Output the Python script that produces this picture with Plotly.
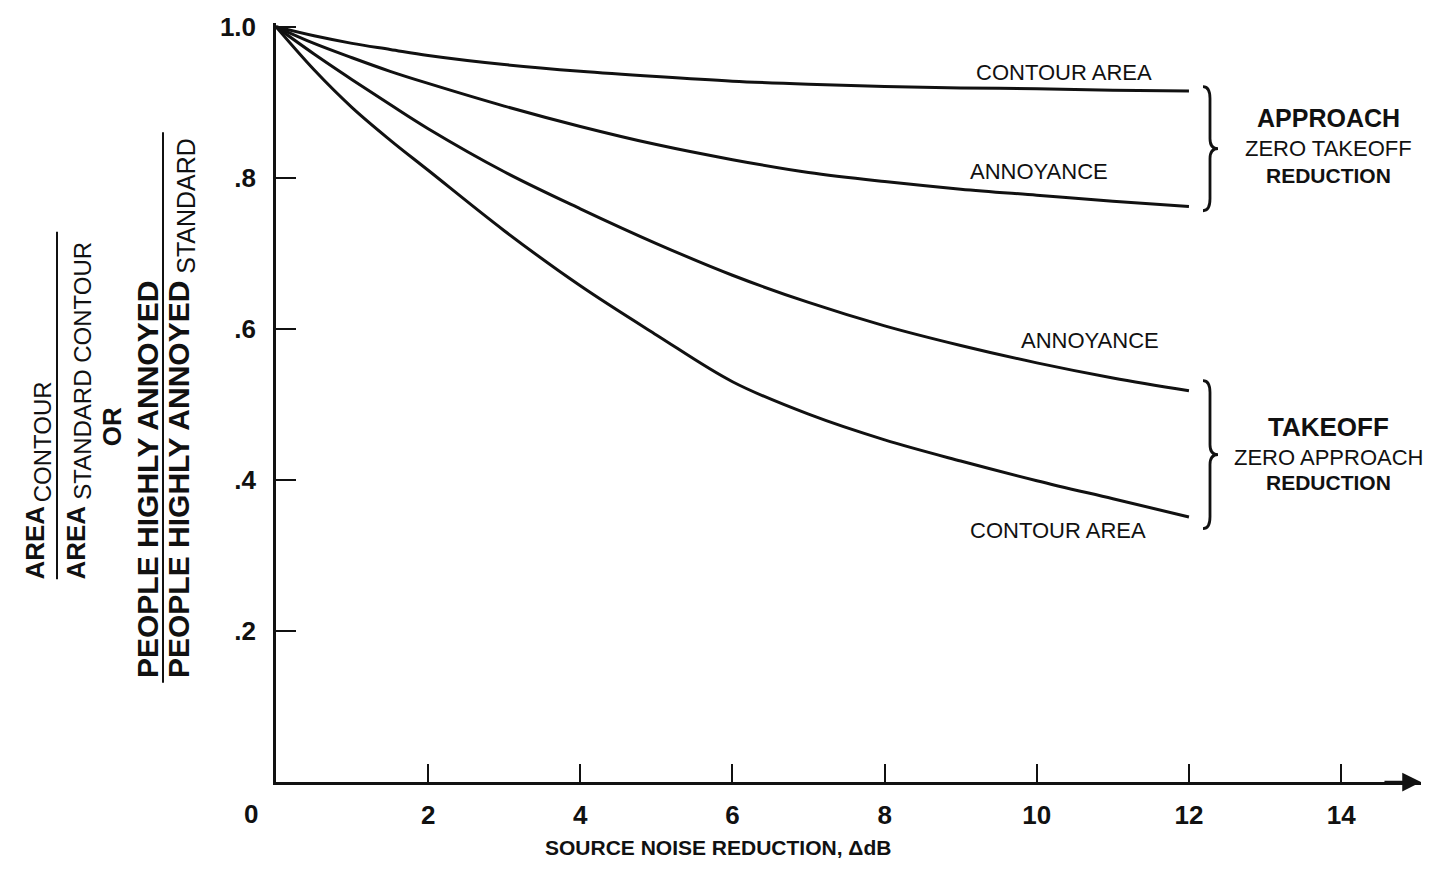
import plotly.graph_objects as go

# ---------------- data ----------------
reduction_db = [0, 0.5, 1, 1.5, 2, 3, 4, 5, 6, 7, 8, 9, 10, 11, 12]
contour_area_approach = [1.0, 0.988, 0.978, 0.970, 0.962, 0.950, 0.941, 0.934, 0.928, 0.924, 0.921, 0.919, 0.918, 0.916, 0.915]
annoyance_approach = [1.0, 0.978, 0.959, 0.941, 0.925, 0.895, 0.868, 0.844, 0.824, 0.807, 0.795, 0.785, 0.777, 0.769, 0.762]
annoyance_takeoff = [1.0, 0.964, 0.930, 0.897, 0.865, 0.808, 0.759, 0.713, 0.671, 0.635, 0.604, 0.578, 0.555, 0.535, 0.518]
contour_area_takeoff = [1.0, 0.943, 0.893, 0.850, 0.810, 0.730, 0.657, 0.592, 0.530, 0.487, 0.453, 0.425, 0.399, 0.375, 0.351]

x_tick_vals = [2, 4, 6, 8, 10, 12, 14]
x_tick_text = ["2", "4", "6", "8", "10", "12", "14"]
y_tick_vals = [0.2, 0.4, 0.6, 0.8, 1.0]
y_tick_text = [".2", ".4", ".6", ".8", "1.0"]

# ---------------- layout geometry ----------------
W, H = 1435, 871
L, R, T, B = 276, 14, 18, 89
PW, PH = W - L - R, H - T - B
FONT = "Liberation Sans, Arial, Helvetica, sans-serif"
INK = "#111111"


def fx(px):
    return (px - L) / PW


def fy(py):
    return (H - B - py) / PH


fig = go.Figure()
for series in [contour_area_approach, annoyance_approach, annoyance_takeoff, contour_area_takeoff]:
    fig.add_trace(go.Scatter(
        x=reduction_db, y=series, mode="lines",
        line=dict(color=INK, width=3, shape="spline", smoothing=1.0),
        hoverinfo="skip", showlegend=False,
    ))

annotations = []


def txt(text, px, py, size, bold=False, angle=0):
    annotations.append(dict(
        text=text, x=fx(px), y=fy(py), xref="paper", yref="paper",
        xanchor="center", yanchor="middle", showarrow=False, textangle=angle,
        font=dict(family=FONT, size=size, color=INK, weight="bold" if bold else "normal"),
    ))


# curve labels (data coordinates)
for text, xv, yv in [("CONTOUR AREA", 10.36, 0.940), ("ANNOYANCE", 10.03, 0.808),
                     ("ANNOYANCE", 10.70, 0.584), ("CONTOUR AREA", 10.28, 0.333)]:
    annotations.append(dict(text=text, x=xv, y=yv, xref="x", yref="y", showarrow=False,
                            xanchor="center", yanchor="middle",
                            font=dict(family=FONT, size=22, color=INK)))

# group labels
txt("APPROACH", 1328, 114, 25, bold=True)
txt("ZERO TAKEOFF", 1328, 144, 22)
txt("REDUCTION", 1328, 172, 21, bold=True)
txt("TAKEOFF", 1328, 425, 26, bold=True)
txt("ZERO APPROACH", 1328, 455, 22)
txt("REDUCTION", 1328, 481, 21, bold=True)

# axis annotations
txt("0", 251, 814, 26, bold=True)
txt("SOURCE NOISE REDUCTION, \u0394dB", 718, 848, 21, bold=True)

# y-axis title (rotated fraction)
txt("AREA", 35, 541, 26, bold=True, angle=-90)
txt("CONTOUR", 42, 440, 24, angle=-90)
txt("AREA", 76, 541, 26, bold=True, angle=-90)
txt("STANDARD CONTOUR", 83, 368, 24, angle=-90)
txt("OR", 112, 425, 26, bold=True, angle=-90)
txt("PEOPLE HIGHLY ANNOYED", 148, 478, 30, bold=True, angle=-90)
txt("PEOPLE HIGHLY ANNOYED", 179, 478, 30, bold=True, angle=-90)
txt("STANDARD", 186, 202, 25, angle=-90)

# x-axis arrow head
annotations.append(dict(x=15.05, y=0, ax=14.55, ay=0, xref="x", yref="y", axref="x", ayref="y",
                        text="", showarrow=True, arrowhead=2, arrowsize=1.5, arrowwidth=2.5,
                        arrowcolor=INK))

shapes = []
# fraction bars of the y title
shapes.append(dict(type="line", xref="paper", yref="paper", x0=fx(57), x1=fx(57),
                   y0=fy(228), y1=fy(578), line=dict(color=INK, width=2)))
shapes.append(dict(type="line", xref="paper", yref="paper", x0=fx(163), x1=fx(163),
                   y0=fy(128), y1=fy(682), line=dict(color=INK, width=2)))


def brace(x0, yt, yb, w=8):
    ym = (yt + yb) / 2
    p = lambda a, b: f"{fx(a)},{fy(b)}"
    return (f"M {p(x0 - 7, yt)} Q {p(x0, yt)} {p(x0, yt + 12)} L {p(x0, ym - 10)} "
            f"Q {p(x0, ym)} {p(x0 + w, ym)} Q {p(x0, ym)} {p(x0, ym + 10)} "
            f"L {p(x0, yb - 12)} Q {p(x0, yb)} {p(x0 - 7, yb)}")


for yt, yb in [(82, 207), (378, 527)]:
    shapes.append(dict(type="path", xref="paper", yref="paper", path=brace(1210, yt, yb),
                       line=dict(color=INK, width=2.8)))

fig.update_layout(
    width=W, height=H,
    margin=dict(l=L, r=R, t=T, b=B, pad=0),
    paper_bgcolor="white", plot_bgcolor="white",
    xaxis=dict(range=[0, 15.05], tickvals=x_tick_vals, ticktext=x_tick_text,
               ticks="inside", ticklen=18, tickwidth=2, tickcolor=INK,
               showline=True, linecolor=INK, linewidth=2.5, showgrid=False, zeroline=False,
               tickfont=dict(family=FONT, size=26, color=INK, weight="bold"),
               ticklabelstandoff=8),
    yaxis=dict(range=[0, 1.005], tickvals=y_tick_vals, ticktext=y_tick_text,
               ticks="inside", ticklen=20, tickwidth=2, tickcolor=INK,
               showline=True, linecolor=INK, linewidth=2.5, showgrid=False, zeroline=False,
               tickfont=dict(family=FONT, size=26, color=INK, weight="bold"),
               ticklabelstandoff=12),
    annotations=annotations, shapes=shapes,
)

fig.write_html("out.html")
